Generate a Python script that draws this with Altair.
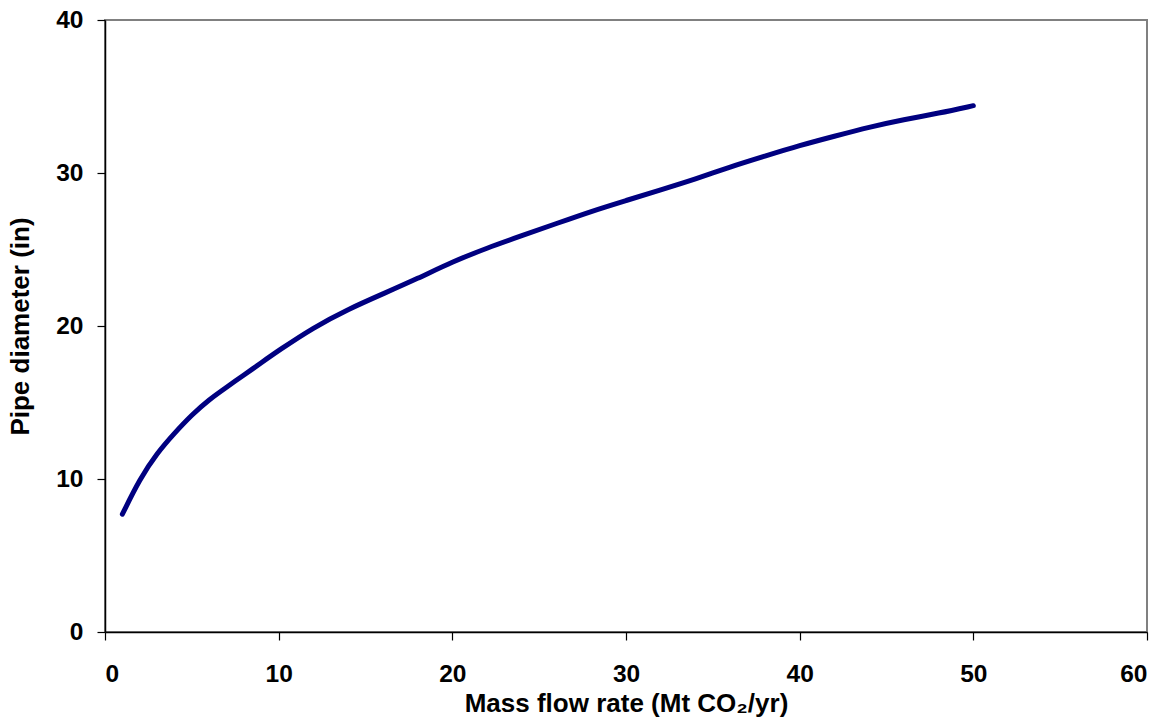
import altair as alt
import pandas as pd

mass_flow = [1, 2, 3, 4, 5, 6, 7, 8, 9, 10, 12, 14, 16, 18, 20, 22, 24, 26, 28, 30,
             32, 34, 36, 38, 40, 42, 44, 46, 48, 50]
diameter = [7.7, 10.0, 11.7, 13.0, 14.2, 15.2, 16.0, 16.8, 17.6, 18.4, 19.9, 21.1, 22.1, 23.1,
            24.2, 25.1, 25.9, 26.7, 27.5, 28.2, 28.9, 29.6, 30.4, 31.1, 31.8, 32.4, 33.0,
            33.5, 33.9, 34.4]
x_ticks = [0, 10, 20, 30, 40, 50, 60]
y_ticks = [0, 10, 20, 30, 40]

df = pd.DataFrame({"m": mass_flow, "d": diameter})

FONT = "Liberation Sans"

chart = alt.Chart(df).mark_line(color="#000080", strokeWidth=5, strokeCap="round",
                                strokeJoin="round", interpolate="basis").encode(
    x=alt.X("m:Q", scale=alt.Scale(domain=[0, 60], nice=False),
            axis=alt.Axis(values=x_ticks, title="Mass flow rate (Mt CO₂/yr)",
                          grid=False, tickSize=8, labelPadding=22, titlePadding=5)),
    y=alt.Y("d:Q", scale=alt.Scale(domain=[0, 40], nice=False),
            axis=alt.Axis(values=y_ticks, title="Pipe diameter (in)",
                          grid=False, tickSize=8, labelPadding=14, titlePadding=22)),
).properties(
    width=1042, height=612,
    autosize=alt.AutoSizeParams(type="none"),
    padding={"left": 97, "top": 12, "right": 13, "bottom": 92},
).configure_view(
    stroke="#808080", strokeWidth=2
).configure_axis(
    domainColor="#000000", domainWidth=1.5, tickColor="#000000", tickWidth=1.2,
    labelFont=FONT, labelFontSize=24.5, labelFontWeight="bold", labelColor="#000000",
    titleFont=FONT, titleFontSize=26, titleFontWeight="bold", titleColor="#000000",
)

chart.save("out.html", embed_options={"renderer": "svg", "actions": False})
